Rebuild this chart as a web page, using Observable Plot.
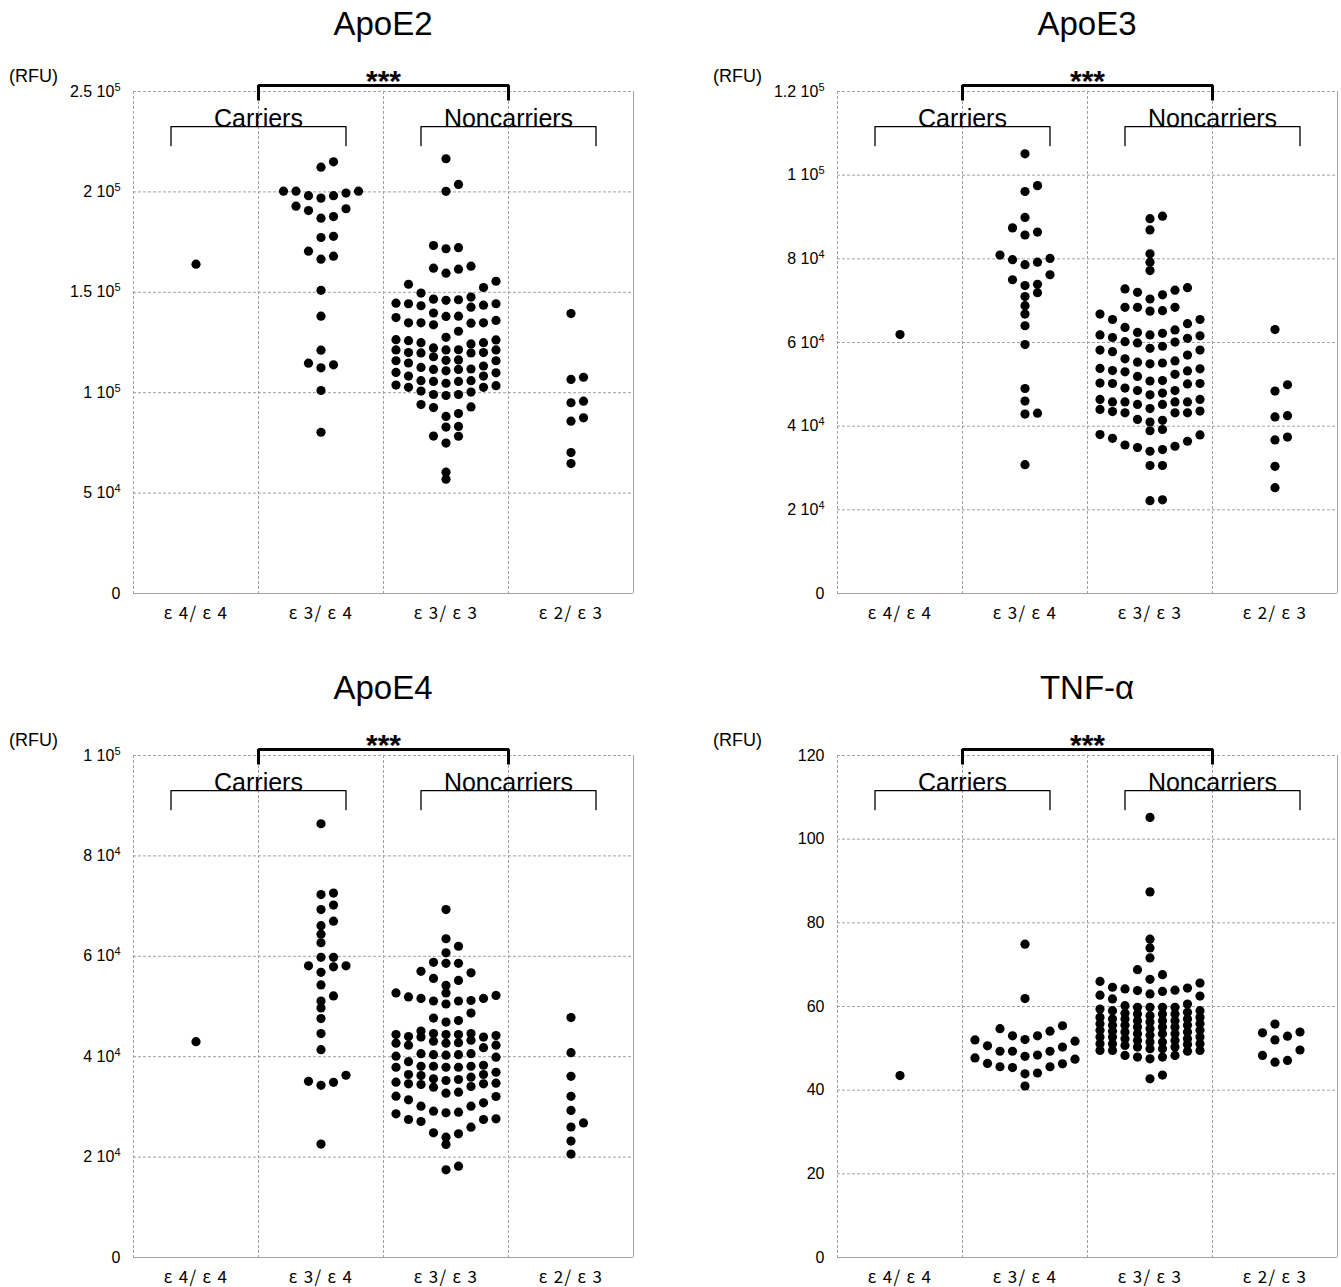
<!DOCTYPE html>
<html><head><meta charset="utf-8">
<script src="https://cdn.jsdelivr.net/npm/d3@7"></script>
<script src="https://cdn.jsdelivr.net/npm/@observablehq/plot@0.6"></script>
<style>
html,body{margin:0;padding:0;background:#fff;}
body{width:1341px;height:1287px;position:relative;overflow:hidden;font-family:"Liberation Sans",Arial,sans-serif;color:#000;}
.panel{position:absolute;width:670px;height:623px;}
.title{position:absolute;left:133px;width:500px;top:5px;font-size:33px;line-height:38px;text-align:center;}
.rfu{position:absolute;left:9px;top:65px;font-size:18px;line-height:22px;}
.chart{position:absolute;left:0;top:55px;}
g[aria-label="x-axis tick label"] text{letter-spacing:1.3px;}
</style></head><body>
<script>
// ---------- categories ----------
const genotypes = ["ε 4/ ε 4", "ε 3/ ε 4", "ε 3/ ε 3", "ε 2/ ε 3"];
const groupLabels = ["Carriers", "Noncarriers"];
const signif = "***";

// ---------- ApoE2 (RFU) ----------
const apoE2_e44 = [164000];
const apoE2_e34 = [215000, 212300, 200350, 200350, 198100, 196900, 198100, 199400, 200350, 192900, 190700, 186900, 187700, 191600, 177900, 177300, 168000, 166500, 170500, 151000, 138100, 121200, 113900, 112400, 114700, 101100, 80300];
const apoE2_e33 = [216500, 203700, 200300, 173300, 172200, 171700, 163000, 162000, 161500, 159500, 155500, 154000, 152400, 147600, 146300, 146000, 146600, 149600, 144300, 143600, 142600, 143300, 144300, 144600, 138000, 136000, 134800, 134800, 138100, 139700, 134600, 134800, 137400, 130600, 133800, 127600, 125900, 124900, 124300, 121300, 122300, 124900, 126400, 126300, 121400, 121300, 119800, 119800, 116100, 117900, 120000, 120000, 121300, 116300, 115900, 113300, 112600, 111600, 111800, 111600, 114800, 115900, 110900, 108300, 108300, 109900, 110100, 106000, 105600, 103800, 102700, 106000, 102700, 103500, 104700, 105600, 99100, 98600, 100300, 100800, 99100, 94100, 92900, 92600, 89600, 88200, 83200, 82900, 78400, 78300, 74900, 60400, 56900];
const apoE2_e23 = [139400, 106600, 107700, 95800, 95000, 85800, 87500, 70200, 64700];
const apoE2Ticks = [0, 50000, 100000, 150000, 200000, 250000];
const apoE2TickLabels = ["0", "5 10^4", "1 10^5", "1.5 10^5", "2 10^5", "2.5 10^5"];

// ---------- ApoE3 (RFU) ----------
const apoE3_e44 = [61900];
const apoE3_e34 = [105100, 97500, 96100, 89900, 86400, 85700, 87400, 80100, 79200, 78600, 79800, 80900, 76200, 75000, 73600, 73900, 71900, 71000, 68800, 66800, 64000, 59500, 49000, 46000, 43100, 42900, 30800];
const apoE3_e33 = [90200, 89600, 86900, 81200, 79200, 77200, 73100, 72800, 72500, 72000, 71400, 70400, 68400, 68400, 68400, 67600, 67500, 66800, 65500, 65500, 64500, 63600, 63000, 62400, 62200, 61800, 61800, 61600, 61200, 61000, 60200, 60100, 59900, 59100, 58600, 58200, 58200, 57800, 57000, 56100, 55600, 55300, 55100, 54900, 53800, 53700, 53300, 53200, 53000, 52400, 51900, 50900, 50800, 50300, 50200, 50200, 50100, 49100, 48500, 48500, 47900, 47500, 46400, 46400, 45800, 45800, 45800, 45800, 45200, 45200, 44200, 44000, 43600, 43500, 43200, 43200, 43200, 41600, 41400, 41000, 39200, 38900, 38000, 37900, 37100, 36400, 35500, 35200, 34900, 34400, 34000, 30600, 30600, 22400, 22200];
const apoE3_e23 = [63100, 49900, 48400, 42200, 42500, 37400, 36700, 30400, 25300];
const apoE3Ticks = [0, 20000, 40000, 60000, 80000, 100000, 120000];
const apoE3TickLabels = ["0", "2 10^4", "4 10^4", "6 10^4", "8 10^4", "1 10^5", "1.2 10^5"];

// ---------- ApoE4 (RFU) ----------
const apoE4_e44 = [43000];
const apoE4_e34 = [86400, 72600, 72300, 70200, 69300, 67000, 66100, 64400, 62700, 59800, 59800, 58100, 56800, 57900, 58100, 54300, 52100, 51100, 49700, 47600, 44600, 41400, 36300, 34900, 34300, 35100, 22600];
const apoE4_e33 = [69300, 63500, 62000, 60700, 58800, 58600, 58600, 57000, 55600, 55200, 56700, 54200, 51600, 52700, 51100, 52200, 50500, 51900, 52700, 51100, 51200, 51600, 48700, 47200, 46900, 47700, 44600, 43300, 44400, 44400, 44000, 45100, 43900, 43900, 44200, 44400, 44600, 43100, 42800, 42700, 42300, 41800, 42300, 42700, 40600, 40400, 40100, 40600, 39900, 40300, 40400, 39000, 38100, 38300, 37900, 37900, 38100, 37900, 38100, 35460, 34930, 36450, 34590, 36250, 34460, 35590, 33930, 35920, 34060, 36450, 34590, 36900, 34730, 35260, 32940, 32140, 31410, 30150, 30150, 30810, 32070, 32740, 28950, 28620, 27490, 27090, 25960, 27490, 27620, 28820, 29150, 24630, 22510, 23970, 24830, 18190, 17460];
const apoE4_e23 = [47800, 40800, 36100, 32100, 29300, 26800, 26000, 23200, 20600];
const apoE4Ticks = [0, 20000, 40000, 60000, 80000, 100000];
const apoE4TickLabels = ["0", "2 10^4", "4 10^4", "6 10^4", "8 10^4", "1 10^5"];

// ---------- TNF-α ----------
const tnf_e44 = [43.5];
const tnf_e34 = [74.9, 61.9, 55.4, 54.1, 53.0, 53.0, 54.7, 52.1, 51.7, 52.0, 50.3, 49.3, 49.3, 49.3, 50.6, 48.1, 47.4, 47.7, 48.4, 46.3, 45.6, 43.9, 45.4, 45.6, 44.1, 46.4, 41.0];
const tnf_e33 = [105.2, 87.4, 76.1, 74.0, 71.6, 68.8, 67.6, 66.5, 65.6, 62.5, 57.0, 55.5, 53.9, 52.3, 50.9, 64.4, 60.2, 58.6, 57.0, 55.5, 53.9, 52.3, 50.7, 49.3, 63.9, 59.4, 57.8, 56.3, 54.7, 53.1, 51.5, 49.9, 48.3, 63.6, 59.8, 58.2, 56.6, 55.1, 53.5, 51.9, 50.3, 47.9, 63.0, 59.8, 58.4, 57.0, 55.5, 54.1, 52.7, 51.1, 49.5, 47.5, 63.8, 59.0, 57.4, 55.9, 54.3, 52.7, 51.1, 49.5, 47.9, 64.2, 60.6, 59.0, 57.4, 55.9, 54.3, 52.7, 51.1, 49.5, 48.3, 64.6, 61.8, 59.8, 58.2, 56.6, 55.1, 53.5, 51.9, 50.3, 66.0, 62.7, 59.8, 58.2, 56.6, 55.1, 53.5, 51.5, 49.9, 43.6, 42.7];
const tnf_e23 = [55.8, 53.7, 52.0, 52.9, 53.9, 49.6, 47.1, 46.7, 48.3];
const tnfTicks = [0, 20, 40, 60, 80, 100, 120];
const tnfTickLabels = ["0", "20", "40", "60", "80", "100", "120"];

// ---------- layout constants ----------
const FRAME_H = 502;       // plot frame height (px)
const COL = 0.1;           // swarm column step, in category units
const ROW_GAP_PX = 7;      // points closer than this (vertically) share a row
const MAX_COLS = 9;

const panels = [
  {title: "ApoE2", groups: [apoE2_e44, apoE2_e34, apoE2_e33, apoE2_e23], yMax: 250000, ticks: apoE2Ticks, labels: apoE2TickLabels, left: 0, top: 0},
  {title: "ApoE3", groups: [apoE3_e44, apoE3_e34, apoE3_e33, apoE3_e23], yMax: 120000, ticks: apoE3Ticks, labels: apoE3TickLabels, left: 704, top: 0},
  {title: "ApoE4", groups: [apoE4_e44, apoE4_e34, apoE4_e33, apoE4_e23], yMax: 100000, ticks: apoE4Ticks, labels: apoE4TickLabels, left: 0, top: 664},
  {title: "TNF-α", groups: [tnf_e44, tnf_e34, tnf_e33, tnf_e23], yMax: 120, ticks: tnfTicks, labels: tnfTickLabels, left: 704, top: 664}
];

function swarm(values, gi, yMax) {
  const H = ROW_GAP_PX * yMax / FRAME_H;
  const sorted = values.slice().sort((a, b) => b - a);
  const rows = [];
  let cur = [];
  for (const v of sorted) {
    if (cur.length && cur[cur.length - 1] - v > H) { rows.push(cur); cur = []; }
    cur.push(v);
  }
  if (cur.length) rows.push(cur);
  const out = [];
  for (const row of rows) {
    const asc = row.slice().sort((a, b) => a - b);
    asc.forEach((v, k) => {
      const m = k % MAX_COLS;
      const off = m === 0 ? 0 : (m % 2 ? (m + 1) / 2 : -m / 2);
      out.push({genotype: genotypes[gi], value: v, x: gi + off * COL});
    });
  }
  return out;
}

const NS = "http://www.w3.org/2000/svg";

panels.forEach(p => {
  const wrap = document.createElement("div");
  wrap.className = "panel";
  wrap.style.left = p.left + "px";
  wrap.style.top = p.top + "px";
  document.body.appendChild(wrap);

  const t = document.createElement("div");
  t.className = "title"; t.textContent = p.title; wrap.appendChild(t);
  const r = document.createElement("div");
  r.className = "rfu"; r.textContent = "(RFU)"; wrap.appendChild(r);

  const pts = p.groups.flatMap((g, i) => swarm(g, i, p.yMax));
  const Y = p.yMax;
  const starY = Y * 1.012, starLeg = Y * 0.982, grpY = Y * 0.930, grpLeg = Y * 0.892;
  const bracketStar = [[0.5, starLeg], [0.5, starY], [2.5, starY], [2.5, starLeg]];
  const bracketCar = [[-0.2, grpLeg], [-0.2, grpY], [1.2, grpY], [1.2, grpLeg]];
  const bracketNon = [[1.8, grpLeg], [1.8, grpY], [3.2, grpY], [3.2, grpLeg]];
  const isRight = p.left > 0;
  const width = isRight ? 637 : 670;
  const isBottom = p.top > 0;

  const chart = Plot.plot({
    width, height: isBottom ? 568 : 580,
    marginLeft: 133, marginRight: isRight ? 4 : 37, marginTop: 36, marginBottom: isBottom ? 30 : 42,
    x: {domain: [-0.5, 3.5]},
    y: {domain: [0, Y]},
    style: {fontFamily: "'Liberation Sans', Arial, sans-serif", fontSize: "15px", color: "#000", background: "transparent", overflow: "visible"},
    marks: [
      Plot.ruleY(p.ticks.filter(d => d > 0), {stroke: "#a0a0a0", strokeDasharray: "3,2", strokeWidth: 1}),
      Plot.ruleX([-0.5, 0.5, 1.5, 2.5], {stroke: "#a0a0a0", strokeDasharray: "3,2", strokeWidth: 1}),
      Plot.ruleX([3.5], {stroke: "#a0a0a0", strokeWidth: 1}),
      Plot.ruleY([0], {stroke: "#a0a0a0", strokeWidth: 1}),
      Plot.axisY({ticks: p.ticks, tickFormat: d => p.labels[p.ticks.indexOf(d)], tickSize: 0, tickPadding: 13, fontSize: 16, label: null}),
      Plot.axisX({ticks: [0, 1, 2, 3], tickFormat: i => genotypes[i], tickSize: 0, tickPadding: 13, fontSize: 17, fontFamily: "'Noto Sans CJK JP', sans-serif", label: null}),
      Plot.line(bracketStar, {stroke: "#000", strokeWidth: 3, strokeLinejoin: "miter", strokeLinecap: "butt"}),
      Plot.line(bracketCar, {stroke: "#000", strokeWidth: 1.3}),
      Plot.line(bracketNon, {stroke: "#000", strokeWidth: 1.3}),
      Plot.text([{x: 1.5, y: starY, t: signif}], {x: "x", y: "y", text: "t", fontSize: 30, fontWeight: "bold", lineAnchor: "bottom", dy: 6}),
      Plot.text([{x: 0.5, y: grpY, t: groupLabels[0]}, {x: 2.5, y: grpY, t: groupLabels[1]}], {x: "x", y: "y", text: "t", fontSize: 25, lineAnchor: "bottom", dy: 0}),
      Plot.dot(pts, {x: "x", y: "value", r: 4.6, fill: "#000", stroke: "none"})
    ]
  });
  chart.classList.add("chart");
  chart.style.position = "absolute";
  chart.style.left = "0px";
  chart.style.top = "55px";
  // superscript exponents in y tick labels
  chart.querySelectorAll('g[aria-label="y-axis tick label"] text').forEach(el => {
    const m = el.textContent.match(/^(.*) 10\^(\d+)$/);
    if (m) {
      el.textContent = "";
      const a = document.createElementNS(NS, "tspan"); a.textContent = m[1] + " 10"; el.appendChild(a);
      const b = document.createElementNS(NS, "tspan"); b.textContent = m[2];
      b.setAttribute("dy", "-0.55em"); b.setAttribute("font-size", "11"); el.appendChild(b);
    }
  });
  wrap.appendChild(chart);
});
</script>
</body></html>
